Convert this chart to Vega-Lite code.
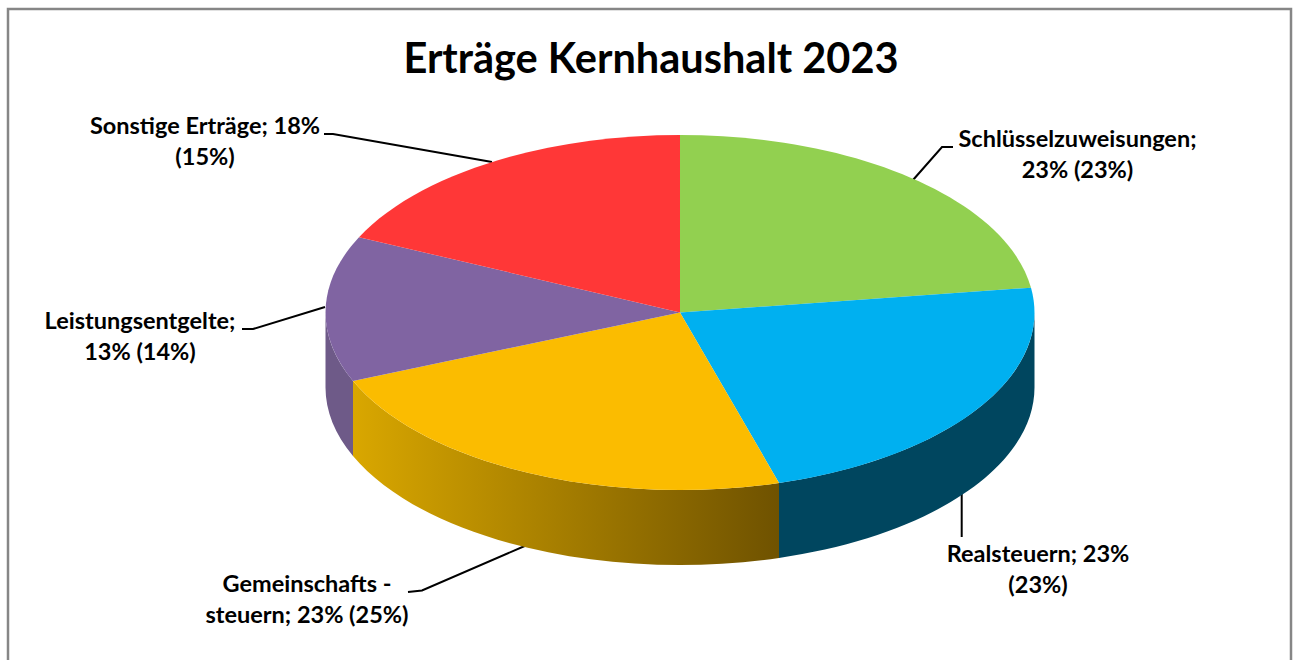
{
"$schema":"https://vega.github.io/schema/vega-lite/v6.json",
"width":1296,"height":660,"padding":0,"autosize":{"type":"none"},
"background":"white",
"config":{"view":{"stroke":null},"axis":{"disable":true}},
"datasets":{"ertraege":[
{"Kategorie":"Schlüsselzuweisungen","Anteil":23,"Vorjahr":23,"Beschriftung":"Schlüsselzuweisungen;\n23% (23%)"},
{"Kategorie":"Realsteuern","Anteil":23,"Vorjahr":23,"Beschriftung":"Realsteuern; 23%\n(23%)"},
{"Kategorie":"Gemeinschaftssteuern","Anteil":23,"Vorjahr":25,"Beschriftung":"Gemeinschafts -\nsteuern; 23% (25%)"},
{"Kategorie":"Leistungsentgelte","Anteil":13,"Vorjahr":14,"Beschriftung":"Leistungsentgelte;\n13% (14%)"},
{"Kategorie":"Sonstige Erträge","Anteil":18,"Vorjahr":15,"Beschriftung":"Sonstige Erträge; 18%\n(15%)"}
]},
"data":{"name":"ertraege"},
"encoding":{
"x":{"datum":680,"type":"quantitative","scale":{"domain":[0,1296],"range":[0,1296]},"axis":null},
"y":{"datum":312.5,"type":"quantitative","scale":{"domain":[0,660],"range":[0,660]},"axis":null}
},
"layer":[
{"data":{"values":[{"Rahmen":"Diagrammfläche"}]},
 "mark":{"type":"rect","fill":"white","stroke":"#868686","strokeWidth":2.5},
 "encoding":{"x":{"datum":8,"type":"quantitative"},"x2":{"datum":1291},"y":{"datum":9,"type":"quantitative"},"y2":{"datum":680}}},
{"data":{"values":[{"Titel":"Erträge Kernhaushalt 2023"}]},
 "mark":{"type":"text","font":"Lato","fontWeight":"bold","fontSize":41.5,"align":"center","baseline":"alphabetic","color":"#000"},
 "encoding":{"x":{"datum":651,"type":"quantitative"},"y":{"datum":73,"type":"quantitative"},"text":{"field":"Titel"}}},
{"mark":{"type":"point","filled":false,"stroke":"#000","strokeWidth":2,"size":4,"opacity":1},
 "encoding":{"shape":{"field":"Kategorie","type":"nominal","legend":null,"scale":{
 "domain":["Schlüsselzuweisungen","Realsteuern","Gemeinschaftssteuern","Leistungsentgelte","Sonstige Erträge"],
 "range":["M273,-165.5L262,-165.5L233,-132.5","M281.7,170.5L281.7,224.5","M-272,279.5L-258,278L-153,232.5","M-438,16.5L-427,16.5L-355,-5.5","M-356,-178.5L-347,-178.5L-188,-150.5"]}}}},
{"transform":[{"filter":"datum.Kategorie==='Realsteuern'"}],
 "mark":{"type":"point","filled":true,"fill":"#00465f","size":4,"opacity":1,"shape":"M354.5,0A354.5,177.5,0,0,1,99,170.4L99,245.4A354.5,177.5,0,0,0,354.5,75Z"}},
{"transform":[{"filter":"datum.Kategorie==='Gemeinschaftssteuern'"}],
 "mark":{"type":"point","filled":true,"size":4,"opacity":1,"shape":"M99,170.4A354.5,177.5,0,0,1,-327,68.5L-327,143.5A354.5,177.5,0,0,0,99,245.4Z",
 "fill":{"gradient":"linear","x1":0,"y1":0,"x2":1,"y2":0,"stops":[{"offset":0,"color":"#d9a700"},{"offset":1,"color":"#6f5200"}]}}},
{"transform":[{"filter":"datum.Kategorie==='Leistungsentgelte'"}],
 "mark":{"type":"point","filled":true,"fill":"#6e5a88","size":4,"opacity":1,"shape":"M-327,68.5A354.5,177.5,0,0,1,-354.5,0L-354.5,75A354.5,177.5,0,0,0,-327,143.5Z"}},
{"mark":{"type":"point","filled":true,"size":4,"opacity":1},
 "encoding":{
 "shape":{"field":"Kategorie","type":"nominal","legend":null,"scale":{
 "domain":["Schlüsselzuweisungen","Realsteuern","Gemeinschaftssteuern","Leistungsentgelte","Sonstige Erträge"],
 "range":["M0,0L0,-177.5A354.5,177.5,0,0,1,351,-24.8Z","M0,0L351,-24.8A354.5,177.5,0,0,1,99,170.4Z","M0,0L99,170.4A354.5,177.5,0,0,1,-327,68.5Z","M0,0L-327,68.5A354.5,177.5,0,0,1,-321,-75.3Z","M0,0L-321,-75.3A354.5,177.5,0,0,1,0,-177.5Z"]}},
 "color":{"field":"Kategorie","type":"nominal","legend":null,"scale":{
 "domain":["Schlüsselzuweisungen","Realsteuern","Gemeinschaftssteuern","Leistungsentgelte","Sonstige Erträge"],
 "range":["#92d050","#00b0f0","#fbbc00","#8064a2","#ff3737"]}}}},
{"transform":[{"filter":"datum.Kategorie==='Schlüsselzuweisungen'"}],
 "mark":{"type":"text","font":"Lato","fontWeight":"bold","fontSize":23.5,"align":"center","baseline":"alphabetic","lineBreak":"\n","lineHeight":31,"color":"#000"},
 "encoding":{"x":{"datum":1077.5,"type":"quantitative"},"y":{"datum":147,"type":"quantitative"},"text":{"field":"Beschriftung"}}},
{"transform":[{"filter":"datum.Kategorie==='Realsteuern'"}],
 "mark":{"type":"text","font":"Lato","fontWeight":"bold","fontSize":23.5,"align":"center","baseline":"alphabetic","lineBreak":"\n","lineHeight":31,"color":"#000"},
 "encoding":{"x":{"datum":1038,"type":"quantitative"},"y":{"datum":562,"type":"quantitative"},"text":{"field":"Beschriftung"}}},
{"transform":[{"filter":"datum.Kategorie==='Gemeinschaftssteuern'"}],
 "mark":{"type":"text","font":"Lato","fontWeight":"bold","fontSize":23.5,"align":"center","baseline":"alphabetic","lineBreak":"\n","lineHeight":31,"color":"#000"},
 "encoding":{"x":{"datum":307,"type":"quantitative"},"y":{"datum":592,"type":"quantitative"},"text":{"field":"Beschriftung"}}},
{"transform":[{"filter":"datum.Kategorie==='Leistungsentgelte'"}],
 "mark":{"type":"text","font":"Lato","fontWeight":"bold","fontSize":23.5,"align":"center","baseline":"alphabetic","lineBreak":"\n","lineHeight":31,"color":"#000"},
 "encoding":{"x":{"datum":140,"type":"quantitative"},"y":{"datum":329,"type":"quantitative"},"text":{"field":"Beschriftung"}}},
{"transform":[{"filter":"datum.Kategorie==='Sonstige Erträge'"}],
 "mark":{"type":"text","font":"Lato","fontWeight":"bold","fontSize":23.5,"align":"center","baseline":"alphabetic","lineBreak":"\n","lineHeight":31,"color":"#000"},
 "encoding":{"x":{"datum":205,"type":"quantitative"},"y":{"datum":134,"type":"quantitative"},"text":{"field":"Beschriftung"}}}
],
"resolve":{"scale":{"shape":"independent"}}
}
